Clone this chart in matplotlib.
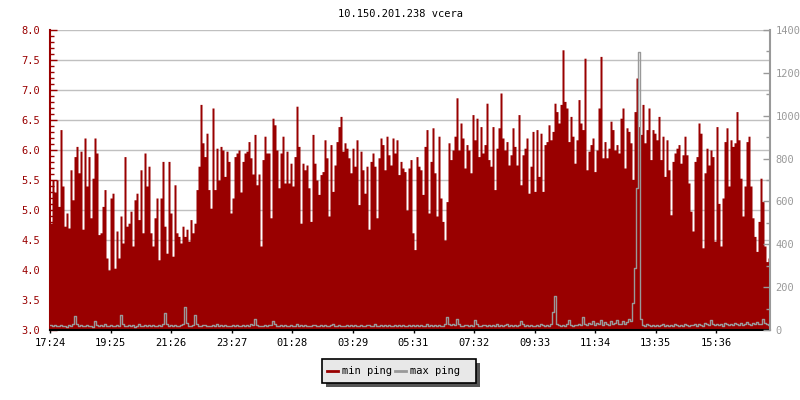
import numpy as np
import matplotlib
matplotlib.use("Agg")
import matplotlib.pyplot as plt
from matplotlib.ticker import MultipleLocator
from matplotlib.patches import Rectangle

title = "10.150.201.238 vcera"
series_names = ["min ping", "max ping"]
tick_labels = ["17:24", "19:25", "21:26", "23:27", "01:28", "03:29",
               "05:31", "07:32", "09:33", "11:34", "13:35", "15:36"]
tick_minutes = [0, 121, 242, 363, 484, 605, 727, 848, 969, 1090, 1211, 1332]
sample_minutes = 4

min_ping = [
    4.78, 5.5, 5.3, 5.5, 5.06, 6.34, 5.4, 4.73, 4.95, 4.7, 5.67, 5.17, 5.89, 6.06, 5.62, 5.98, 4.68, 6.2,
    5.4, 5.89, 4.87, 5.53, 6.2, 5.95, 4.59, 4.62, 5.06, 5.34, 4.2, 4.0, 5.2, 5.28, 4.03, 4.65, 4.2, 4.9,
    4.45, 5.89, 4.73, 4.78, 4.98, 4.4, 5.17, 5.28, 4.84, 5.67, 4.62, 5.95, 5.4, 5.73, 4.62, 4.4, 4.87, 5.2,
    4.17, 5.2, 5.81, 4.73, 4.28, 5.81, 4.95, 4.23, 5.42, 4.62, 4.56, 4.45, 4.73, 4.56, 4.68, 4.48, 4.84, 4.62,
    4.78, 5.34, 5.73, 6.76, 6.12, 5.89, 6.28, 5.34, 5.03, 6.7, 5.34, 6.03, 5.5, 6.06, 6.0, 5.56, 5.98, 5.81,
    4.95, 5.2, 5.89, 5.95, 6.0, 5.3, 5.81, 5.95, 5.98, 6.14, 5.87, 5.6, 6.26, 5.42, 5.6, 4.4, 5.84, 6.23,
    5.95, 5.95, 4.87, 6.53, 6.42, 6.0, 5.37, 5.95, 6.23, 5.45, 5.98, 5.45, 5.78, 5.4, 5.89, 6.73, 6.06, 4.78,
    5.78, 5.67, 5.75, 5.37, 4.81, 6.26, 5.78, 5.5, 5.26, 5.59, 5.64, 6.17, 5.87, 4.9, 6.09, 5.31, 5.75, 6.14,
    6.39, 6.56, 5.98, 6.12, 6.03, 5.87, 5.62, 6.03, 5.73, 6.17, 5.09, 5.98, 5.67, 5.28, 5.73, 4.68, 5.81, 5.95,
    5.73, 4.87, 5.87, 6.2, 6.09, 5.67, 6.23, 5.92, 5.75, 6.2, 5.95, 6.17, 5.59, 5.81, 5.7, 5.64, 5.0, 5.7,
    5.84, 4.62, 4.34, 5.89, 5.73, 5.67, 5.26, 6.06, 6.34, 4.95, 5.81, 6.37, 5.62, 4.9, 6.23, 5.2, 4.81, 4.5,
    5.14, 6.12, 5.84, 6.0, 6.23, 6.87, 6.0, 6.45, 6.2, 5.7, 6.09, 6.0, 5.62, 6.59, 6.17, 6.53, 5.89, 6.39,
    5.95, 6.09, 6.78, 5.84, 5.73, 6.39, 5.34, 6.03, 6.37, 6.95, 6.2, 6.0, 6.14, 5.75, 5.92, 6.37, 6.06, 5.75,
    6.59, 5.42, 5.92, 6.03, 6.2, 5.28, 5.73, 6.31, 5.31, 6.34, 5.56, 6.28, 5.31, 6.09, 6.14, 6.42, 6.17, 6.31,
    6.78, 6.64, 6.45, 6.76, 7.67, 6.81, 6.7, 6.14, 6.56, 6.23, 5.78, 6.17, 6.84, 6.45, 6.34, 7.53, 5.67, 5.98,
    6.09, 6.2, 5.64, 6.0, 6.7, 7.56, 5.87, 6.14, 5.87, 6.03, 6.48, 6.34, 6.0, 6.09, 5.95, 6.53, 6.7, 5.7,
    6.37, 6.31, 6.12, 5.51, 6.64, 7.2, 6.39, 6.26, 6.76, 6.12, 6.34, 6.7, 5.84, 6.34, 6.28, 6.17, 6.56, 5.84,
    6.23, 5.56, 6.17, 5.67, 4.92, 5.81, 5.95, 6.03, 6.09, 5.78, 5.92, 6.23, 5.92, 5.45, 4.98, 4.65, 5.81, 5.89,
    6.45, 6.28, 4.37, 5.62, 6.03, 5.75, 6.0, 5.89, 4.48, 6.39, 5.11, 4.4, 5.2, 6.14, 6.37, 5.4, 6.17, 6.06,
    6.12, 6.64, 6.17, 5.53, 4.9, 5.4, 6.14, 6.23, 5.4, 4.87, 4.56, 4.31, 4.81, 5.53, 5.14, 4.4, 4.14, 4.2,
]

max_ping = [
    22, 18, 25, 20, 17, 24, 19, 21, 16, 23, 20, 27, 65, 30, 19, 22, 17, 20, 25, 18, 21, 16, 42, 24, 19, 22, 18, 26, 20, 17,
    23, 19, 21, 25, 18, 70, 28, 20, 17, 22, 19, 24, 16, 21, 26, 18, 20, 23, 17, 22, 19, 25, 21, 18, 24, 20, 30, 79, 26, 19,
    22, 18, 24, 20, 17, 23, 28, 107, 35, 21, 19, 24, 70, 26, 20, 18, 22, 25, 19, 21, 17, 23, 20, 26, 18, 22, 19, 24, 21, 17,
    20, 23, 18, 25, 21, 19, 22, 17, 24, 20, 26, 22, 51, 24, 19, 21, 18, 23, 20, 25, 22, 40, 30, 21, 19, 24, 18, 22, 20, 17,
    23, 19, 21, 26, 18, 22, 20, 24, 17, 21, 19, 25, 22, 18, 20, 23, 17, 24, 21, 19, 22, 26, 18, 20, 23, 19, 21, 17, 24, 20,
    22, 18, 25, 21, 19, 23, 20, 17, 24, 22, 19, 21, 26, 18, 20, 23, 17, 22, 19, 25, 21, 18, 24, 20, 22, 19, 23, 17, 21, 25,
    19, 22, 18, 24, 20, 23, 17, 21, 26, 19, 22, 18, 24, 20, 25, 21, 19, 30, 61, 28, 22, 26, 24, 50, 27, 21, 19, 24, 22, 18,
    23, 20, 45, 26, 21, 19, 24, 22, 18, 25, 20, 23, 19, 28, 21, 24, 18, 22, 26, 20, 23, 19, 25, 21, 24, 40, 26, 20, 22, 19,
    24, 21, 18, 23, 20, 26, 22, 19, 25, 21, 30, 84, 159, 28, 22, 19, 24, 21, 26, 45, 23, 20, 25, 22, 28, 24, 61, 30, 22, 35,
    26, 40, 24, 33, 28, 45, 25, 38, 30, 22, 42, 27, 35, 48, 26, 30, 44, 28, 36, 52, 40, 125, 290, 663, 1297, 50, 24, 21, 26, 22,
    19, 24, 21, 25, 18, 22, 27, 20, 23, 19, 25, 21, 26, 22, 18, 24, 20, 28, 23, 19, 25, 22, 30, 21, 26, 24, 20, 32, 27, 22,
    45, 26, 22, 30, 25, 28, 21, 33, 26, 24, 30, 22, 35, 27, 25, 31, 23, 29, 36, 26, 24, 32, 28, 38, 30, 27, 50, 34, 29, 25,
]

RED = "#990000"
GRAY = "#999999"
FONT = "DejaVu Sans Mono"
FS = 7.5

fig = plt.figure(figsize=(8, 4), dpi=100)
ax = fig.add_axes([50 / 800, 70 / 400, 720 / 800, 300 / 400])
ax2 = ax.twinx()

n = len(min_ping)
xe = np.arange(n + 1)
ax.fill_between(xe, np.r_[min_ping, min_ping[-1]], 3.0, step="post",
                color=RED, linewidth=0, zorder=2)
ax2.step(xe, np.r_[max_ping, max_ping[-1]], where="post", color=GRAY, lw=1.0, zorder=3)

ax.set_xlim(0, n)
ax.set_ylim(3.0, 8.0)
ax2.set_ylim(0, 1400)

ax.yaxis.set_major_locator(MultipleLocator(0.5))
ax.yaxis.set_minor_locator(MultipleLocator(0.1))
ax.yaxis.set_major_formatter(matplotlib.ticker.FormatStrFormatter("%.1f"))
ax2.yaxis.set_major_locator(MultipleLocator(200))
ax2.yaxis.set_minor_locator(MultipleLocator(100))

ax.grid(axis="y", which="major", color="#c0c0c0", lw=1.0, zorder=1)
ax.set_axisbelow(True)

ax.set_xticks([m / sample_minutes for m in tick_minutes])
ax.set_xticklabels(tick_labels)

ax.spines["top"].set_visible(False)
ax2.spines["top"].set_visible(False)
ax.spines["right"].set_visible(False)
ax2.spines["left"].set_visible(False)
ax2.spines["bottom"].set_visible(False)
ax.spines["left"].set_color(RED)
ax.spines["left"].set_linewidth(1.5)
ax2.spines["right"].set_color(GRAY)
ax2.spines["right"].set_linewidth(1.5)
ax.spines["bottom"].set_color("black")
ax.spines["bottom"].set_linewidth(1.5)
ax.spines["bottom"].set_zorder(5)

ax.tick_params(axis="y", which="major", direction="in", length=5, width=1, color=RED,
               labelcolor=RED, labelsize=FS, pad=7)
ax.tick_params(axis="y", which="minor", direction="in", length=3, width=1, color=RED)
ax2.tick_params(axis="y", which="major", direction="in", length=5, width=1, color=GRAY,
                labelcolor=GRAY, labelsize=FS, pad=4)
ax2.tick_params(axis="y", which="minor", direction="in", length=3, width=1, color=GRAY)
ax.tick_params(axis="x", direction="inout", length=5, width=1, color="black",
               labelsize=FS, pad=3)

for lab in ax.get_xticklabels() + ax.get_yticklabels() + ax2.get_yticklabels():
    lab.set_fontfamily(FONT)

fig.text(0.5, 1 - 14 / 400, title, ha="center", va="center", fontsize=FS,
         family=FONT, color="black")

# legend box with shadow
lx, ly, lw_, lh = 322 / 800, 1 - 383 / 400, 154 / 800, 24 / 400
fig.patches.append(Rectangle((lx + 4 / 800, ly - 4 / 400), lw_, lh, transform=fig.transFigure,
                             facecolor="#555555", edgecolor="none", zorder=1))
fig.patches.append(Rectangle((lx, ly), lw_, lh, transform=fig.transFigure,
                             facecolor="#e8e8e8", edgecolor="black", lw=1.2, zorder=2))
cy = ly + lh / 2
fig.lines.append(plt.Line2D([327 / 800, 338 / 800], [cy, cy], transform=fig.transFigure,
                            color=RED, lw=2, zorder=3))
fig.text(342 / 800, cy, series_names[0], ha="left", va="center", fontsize=FS,
         family=FONT, zorder=3)
fig.lines.append(plt.Line2D([395 / 800, 406 / 800], [cy, cy], transform=fig.transFigure,
                            color=GRAY, lw=2, zorder=3))
fig.text(410 / 800, cy, series_names[1], ha="left", va="center", fontsize=FS,
         family=FONT, zorder=3)

fig.savefig("out.png", dpi=100)
